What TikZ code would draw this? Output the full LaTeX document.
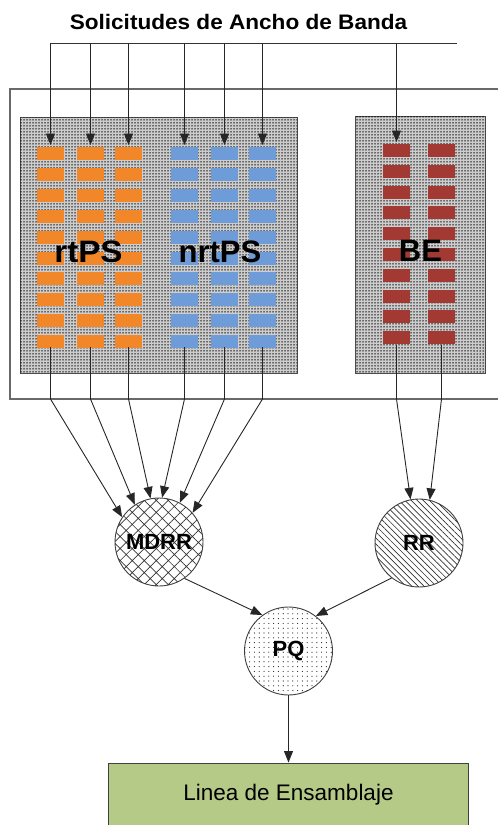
\documentclass[tikz,border=0pt]{standalone}
\usepackage{fontspec}
\setmainfont{Liberation Sans}
\usetikzlibrary{arrows.meta,patterns.meta}
\definecolor{qorange}{RGB}{241,135,40}
\definecolor{qblue}{RGB}{109,156,216}
\definecolor{qred}{RGB}{162,57,50}
\definecolor{boxgray}{RGB}{205,205,205}
\definecolor{lgreen}{RGB}{182,202,136}
\definecolor{framegray}{RGB}{105,105,105}
\tikzset{
  conn/.style={draw=black!85, line width=0.9pt, -{Triangle[length=11.5pt,width=9pt]}},
  plainline/.style={draw=black!80, line width=0.9pt},
  framestyle/.style={draw=framegray, line width=1.4pt},
  graybox/.style={draw=black!70, line width=0.9pt, fill=boxgray, inner sep=0pt,
    postaction={pattern={Dots[distance=3pt,radius=0.75pt]}, pattern color=black}},
  colnode/.style={minimum width=27pt, inner sep=0pt, outer sep=0pt},
  biglabel/.style={font=\bfseries\fontsize{31}{36}\selectfont, inner sep=0pt},
  sched/.style={circle, draw=black!75, line width=0.9pt, minimum size=88pt, inner sep=0pt,
    fill=white, font=\bfseries\fontsize{22}{26}\selectfont},
}
\begin{document}
\begin{tikzpicture}[x=1pt,y=-1pt]
\useasboundingbox (0,0) rectangle (498,825);

% title
\node[font=\bfseries\fontsize{21}{25}\selectfont, inner sep=0pt] (title) at (238.5,22) {\scalebox{1.075}[1]{Solicitudes de Ancho de Banda}};

% outer frame
\coordinate (ftr) at (498,89);
\coordinate (ftl) at (10,89);
\coordinate (fbl) at (10,399);
\coordinate (fbr) at (498,399);
\draw[framestyle] (ftr) -- (ftl) -- (fbl) -- (fbr);

% gray boxes
\node[graybox, minimum width=277pt, minimum height=256pt] (lbox) at (158.5,245) {};
\node[graybox, minimum width=130pt, minimum height=257pt] (rbox) at (420.5,244.5) {};

% queue columns (bars)
\foreach \cx/\nm in {50.5/c1, 90.5/c2, 128.5/c3}{
  \node[colnode, minimum height=200pt] (\nm) at (\cx,247) {};
  \foreach \i in {0,...,9}
    \fill[qorange] (\cx-13.5, 147+\i*20.9) rectangle ++(27,13);
}
\foreach \cx/\nm in {184.5/c4, 224.5/c5, 262.5/c6}{
  \node[colnode, minimum height=200pt] (\nm) at (\cx,247) {};
  \foreach \i in {0,...,9}
    \fill[qblue] (\cx-13.5, 147+\i*20.9) rectangle ++(27,13);
}
\foreach \cx/\nm in {396.5/c7, 441.5/c8}{
  \node[colnode, minimum height=201pt] (\nm) at (\cx,244.5) {};
  \foreach \i in {0,...,9}
    \fill[qred] (\cx-13.5, 144+\i*20.8) rectangle ++(27,13);
}

% labels
\node[biglabel] (lrt) at (88.5,252) {\scalebox{1.07}[1]{rtPS}};
\node[biglabel] (lnrt) at (220,252) {nrtPS};
\node[biglabel] (lbe) at (420.5,251) {BE};

% request distribution line
\coordinate (tl) at (50.5,43);
\coordinate (tr) at (457,43);
\draw[plainline] (tl) -- (tr);
\foreach \nm in {c1,c2,c3,c4,c5,c6,c7}{
  \coordinate (t\nm) at (\nm.north |- tl);
  \draw[conn, shorten >=2pt] (t\nm) -- (\nm.north);
}

% schedulers
\node[sched, postaction={pattern={Hatch[angle=45,distance=8.5pt,line width=0.7pt]}, pattern color=black!80}] (mdrr) at (159,542) {MDRR};
\node[sched, postaction={pattern={Lines[angle=-45,distance=4.3pt,line width=0.7pt]}, pattern color=black!80}] (rr) at (419,543) {RR};
\node[sched, postaction={pattern={Dots[distance=4.8pt,radius=0.6pt]}, pattern color=black!85}] (pq) at (288.5,651) {PQ};

% queue outputs
\coordinate (fb) at (0,399);
\foreach \nm/\ang in {c1/146, c2/123, c3/101, c4/86, c5/62, c6/41}{
  \draw[conn] (\nm.south) -- (\nm.south |- fb) -- (mdrr.\ang);
}
\foreach \nm/\ang in {c7/101, c8/76}{
  \draw[conn] (\nm.south) -- (\nm.south |- fb) -- (rr.\ang);
}

\draw[conn] (mdrr.-55) -- (pq.126);
\draw[conn] (rr.-128) -- (pq.52);

% assembly line
\node[draw=black!75, line width=0.9pt, fill=lgreen, minimum width=360pt, minimum height=64pt,
      font=\fontsize{22.5}{27}\selectfont] (lin) at (288.5,795) {Linea de Ensamblaje};
\draw[conn] (pq.south) -- (lin.north);
\end{tikzpicture}
\end{document}
